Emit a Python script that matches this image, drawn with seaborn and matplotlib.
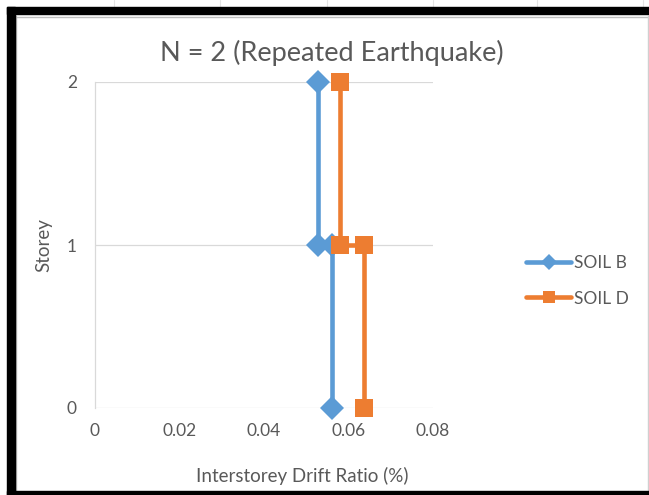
import matplotlib
matplotlib.use("Agg")
import matplotlib.pyplot as plt
from matplotlib.patches import Rectangle
from matplotlib.lines import Line2D
import seaborn as sns
import pandas as pd

# Interstorey drift profile for a two-storey frame under a repeated earthquake
storey = [0, 1, 1, 2]
soil_b_drift = [0.0560, 0.0560, 0.0527, 0.0527]
soil_d_drift = [0.0637, 0.0637, 0.0580, 0.0580]
series_names = ["SOIL B", "SOIL D"]
x_ticks = [0, 0.02, 0.04, 0.06, 0.08]
x_tick_labels = ["0", "0.02", "0.04", "0.06", "0.08"]
y_ticks = [0, 1, 2]

df = pd.DataFrame({
    "drift": soil_b_drift + soil_d_drift,
    "storey": storey + storey,
    "soil": [series_names[0]] * len(storey) + [series_names[1]] * len(storey),
})

sns.set_theme(style="white")
plt.rcParams["font.family"] = ["Lato", "DejaVu Sans"]

W, H, DPI = 649, 495, 100
fig = plt.figure(figsize=(W / DPI, H / DPI), dpi=DPI)
fig.patch.set_facecolor("white")

def fx(px):
    return px / W

def fy(py):
    return 1 - py / H

TEXT = "#595959"
GRID = "#D9D9D9"
BLUE = "#5B9BD5"
ORANGE = "#ED7D31"

# plot area
ax = fig.add_axes([fx(95), fy(408), fx(433) - fx(95), fy(82) - fy(408)])
palette = {series_names[0]: BLUE, series_names[1]: ORANGE}
markers = {series_names[0]: "D", series_names[1]: "s"}
sizes = {series_names[0]: 12.5, series_names[1]: 12.5}
for name in series_names:
    sub = df[df["soil"] == name]
    sns.lineplot(data=sub, x="drift", y="storey", color=palette[name],
                 marker=markers[name], markersize=sizes[name],
                 markeredgewidth=0, linewidth=3.3, sort=False, estimator=None,
                 ax=ax, legend=False, zorder=3)

ax.set_xlim(0, 0.08)
ax.set_ylim(0, 2)
ax.set_xticks(x_ticks)
ax.set_xticklabels(x_tick_labels)
ax.set_yticks(y_ticks)
ax.grid(axis="y", color=GRID, linewidth=0.9)
ax.grid(axis="x", visible=False)
for side in ["top", "right", "bottom"]:
    ax.spines[side].set_visible(False)
ax.spines["left"].set_color(GRID)
ax.spines["left"].set_linewidth(0.9)
for ln in ax.lines:
    ln.set_clip_on(False)
ax.tick_params(axis="both", length=0, labelsize=12.5, labelcolor=TEXT)
ax.tick_params(axis="x", pad=11)
ax.tick_params(axis="y", pad=13)
ax.set_xlabel("Interstorey Drift Ratio (%)", fontsize=13.5, color=TEXT)
ax.set_ylabel("Storey", fontsize=13.5, color=TEXT)
ax.xaxis.set_label_coords((302 - 95) / 338, (408 - 467) / 326)
ax.yaxis.set_label_coords((52 - 95) / 338, 0.5)

fig.text(fx(332), fy(53), "N = 2 (Repeated Earthquake)", ha="center", va="center",
         fontsize=19.5, color=TEXT)

# legend
handles = [Line2D([], [], color=BLUE, marker="D", markersize=8, markeredgewidth=0, linewidth=3.3),
           Line2D([], [], color=ORANGE, marker="s", markersize=8, markeredgewidth=0, linewidth=3.3)]
fig.legend(handles, series_names, loc="center left", bbox_to_anchor=(fx(526), fy(281)),
           frameon=False, fontsize=12.5, labelcolor=TEXT, handlelength=2.6,
           handletextpad=0.15, labelspacing=1.1, borderpad=0, borderaxespad=0)

# frame around the chart
fig.patches.append(Rectangle((fx(7), fy(495)), fx(8), fy(7) - fy(495),
                             transform=fig.transFigure, color="black", zorder=5))
fig.patches.append(Rectangle((fx(7), fy(14)), fx(649) - fx(7), fy(7) - fy(14),
                             transform=fig.transFigure, color="black", zorder=5))
fig.patches.append(Rectangle((fx(7), fy(495)), fx(649) - fx(7), fy(490.5) - fy(495),
                             transform=fig.transFigure, color="black", zorder=5))
fig.add_artist(Line2D([fx(16), fx(16)], [fy(16), fy(490)], color="#BFBFBF", linewidth=1))
fig.add_artist(Line2D([fx(16), fx(648)], [fy(16.5), fy(16.5)], color="#BFBFBF", linewidth=1))
fig.add_artist(Line2D([fx(648), fx(648)], [fy(16), fy(490)], color="#D0D0D0", linewidth=1))
for gx in [114, 220, 327, 433, 537, 643]:
    fig.add_artist(Line2D([fx(gx), fx(gx)], [fy(0), fy(7)], color="#E4E4E4", linewidth=0.8))

fig.savefig("out.png", dpi=DPI)
